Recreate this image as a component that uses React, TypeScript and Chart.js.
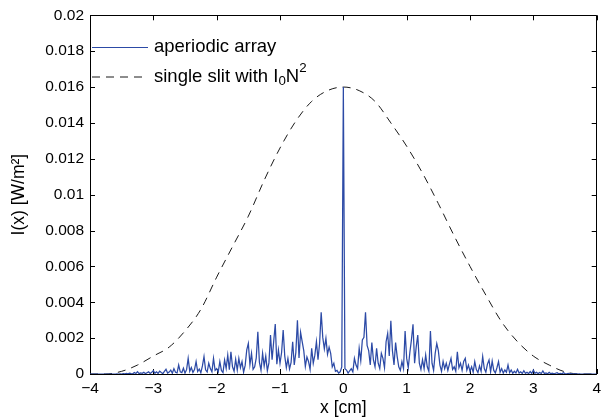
import React, { useEffect, useRef } from 'react';
import { Chart, registerables } from 'chart.js';

Chart.register(...registerables);

// ---- data ----
// x grid for the aperiodic-array trace
const X_START = -4;
const X_STEP = 0.025;
// aperiodic array intensity, in units of 1e-4 W/m^2, one value per grid step
const aperiodicA = [0,0,0,0,0,0,0,0,0,0, 0,0,0,0,0,0,0,0.1,0,0.1, 0,0.2,0.1,0.3,0.1,0.5,0.2,0.1,0.8,0.3, 1.3,0.2,0.6,0.4,1.0,0.2,0.7,1.2,0.3,0.9]; // -4 .. -3.025
const aperiodicB = [1.9,0.4,1.2,0.3,1.6,0.8,0.2,1.4,2.6,0.5, 1.1,2.2,0.4,3.0,1.0,0.6,5.0,1.2,0.8,3.2, 0.5,2.4,8.7,1.5,3.6,0.9,2.5,6.9,1.4,2.8, 0.7,4.5,9.7,2.3,1.1,6.0,3.0,1.2,8.7,2.0]; // -3 .. -2.025
const aperiodicC = [3.0,1.2,6.9,2.0,0.8,7.8,3.1,10.6,2.4,12.4, 4.0,1.5,8.2,2.2,8.7,3.5,6.9,1.0,4.8,13.4, 17.0,5.2,11.5,2.6,4.0,9.0,23.6,6.5,2.1,11.5, 4.4,10.0,1.8,6.2,21.7,8.0,18.0,27.9,5.5,13.4]; // -2 .. -1.025
const aperiodicD = [6.0,12.0,24.5,10.0,3.5,8.7,2.8,6.5,18.0,5.0, 12.0,30.0,9.0,23.2,18.0,13.0,4.2,9.5,7.0,2.5, 14.3,6.0,10.5,18.0,8.0,17.0,34.4,20.4,14.0,19.9, 11.0,15.0,11.5,4.0,6.0,1.5,2.0,0.5,1.2,4.0]; // -1 .. -0.025
const aperiodicCenter = [160]; // x = 0
const aperiodicE = [3.0,2.2,0.5,1.8,3.0,1.2,8.7,5.0,3.0,14.3, 7.5,19.0,20.4,34.4,16.0,13.0,5.0,17.5,7.8,4.0, 14.3,6.0,3.0,11.5,8.7,3.5,18.0,22.7,10.0,29.7, 13.0,5.0,17.5,9.7,4.0,2.0,6.9,3.0,24.0,8.7]; // 0.025 .. 1
const aperiodicF = [3.5,12.0,19.0,27.7,6.0,15.0,21.7,6.0,2.5,8.0, 3.0,10.6,4.0,1.5,24.0,6.0,2.0,11.5,17.0,13.0, 5.0,1.5,7.0,3.0,6.0,2.0,5.5,8.7,2.5,4.0, 1.5,12.4,3.5,6.0,2.0,7.0,8.7,2.2,5.0,1.5]; // 1.025 .. 2
const aperiodicG = [4.0,1.0,6.9,2.5,0.8,4.5,1.5,9.7,3.0,1.0, 5.5,7.8,1.2,7.2,2.0,0.6,3.5,6.9,1.0,3.0, 0.5,2.2,1.0,5.0,0.8,2.2,0.4,1.5,0.6,2.6, 0.5,1.2,0.3,1.8,0.4,1.0,0.2,1.4,0.3,2.2]; // 2.025 .. 3
const aperiodicH = [0.4,1.0,0.2,0.8,0.3,1.7,0.2,0.6,0.1,0.9, 0.2,0.5,0.1,0.4,0.7,0.1,0.3,0.1,0.7,0.2, 0.1,0.3,0.1,0.2,0,0.1,0.1,0,0.1,0, 0,0,0,0,0,0,0,0,0,0]; // 3.025 .. 4
const APERIODIC_UNIT = 1e-4;

// single-slit envelope (I0 N^2), W/m^2
const slitX = [-4,-3.75,-3.5,-3.25,-3,-2.75,-2.5,-2.25,-2,-1.75,-1.5,-1.25,-1,-0.75,-0.5,-0.25,0,0.25,0.5,0.75,1,1.25,1.5,1.75,2,2.25,2.5,2.75,3,3.25,3.5,3.75,4];
const slitY = [0,0,0.00015,0.0005,0.0010,0.0015,0.0024,0.0036,0.0054,0.0071,0.0088,0.0108,0.0126,0.0141,0.0152,0.0158,0.0160,0.0158,0.0152,0.0140,0.0127,0.0112,0.0095,0.0077,0.0060,0.0044,0.0029,0.0018,0.0010,0.0005,0.00012,0,0];

const xTickValues = [-4,-3,-2,-1,0,1,2,3,4];
const xTickLabels = ['\u22124','\u22123','\u22122','\u22121','0','1','2','3','4'];
const yTickValues = [0,0.002,0.004,0.006,0.008,0.01,0.012,0.014,0.016,0.018,0.02];
const yTickLabels = ['0','0.002','0.004','0.006','0.008','0.01','0.012','0.014','0.016','0.018','0.02'];

const seriesLabels = ['aperiodic array', 'single slit with I\u2080N\u00b2'];
const xTitle = 'x [cm]';
const yTitle = 'I(x) [W/m\u00b2]';

const FONT = "'Liberation Sans', Arial, Helvetica, sans-serif";

function drawRich(ctx: CanvasRenderingContext2D, text: string, x: number, y: number, size: number) {
  const sub: Record<string, string> = { '\u2080': '0', '\u2081': '1', '\u2082': '2' };
  const sup: Record<string, string> = { '\u00b2': '2', '\u00b3': '3' };
  let cx = x;
  let buf = '';
  const flush = () => {
    if (!buf) return;
    ctx.font = `${size}px ${FONT}`;
    ctx.fillText(buf, cx, y);
    cx += ctx.measureText(buf).width;
    buf = '';
  };
  for (const ch of text) {
    if (sub[ch] || sup[ch]) {
      flush();
      const s = size * 0.72;
      ctx.font = `${s}px ${FONT}`;
      const dy = sub[ch] ? size * 0.28 : -size * 0.42;
      const t = sub[ch] || sup[ch];
      ctx.fillText(t, cx, y + dy);
      cx += ctx.measureText(t).width;
    } else {
      buf += ch;
    }
  }
  flush();
}

const framePlugin = {
  id: 'matlabFrame',
  beforeDatasetsDraw(chart: any) {
    const { ctx, chartArea } = chart;
    const { left, right, top, bottom } = chartArea;
    const xs = chart.scales.x;
    const ys = chart.scales.y;
    const TL = 5;
    ctx.save();
    ctx.strokeStyle = '#000';
    ctx.lineWidth = 1;
    ctx.beginPath();
    ctx.rect(Math.round(left) + 0.5, Math.round(top) + 0.5, Math.round(right - left) - 1, Math.round(bottom - top));
    for (const v of xTickValues) {
      const px = Math.round(xs.getPixelForValue(v)) + 0.5;
      ctx.moveTo(px, bottom); ctx.lineTo(px, bottom - TL);
      ctx.moveTo(px, top); ctx.lineTo(px, top + TL);
    }
    for (const v of yTickValues) {
      const py = Math.round(ys.getPixelForValue(v)) + 0.5;
      ctx.moveTo(left, py); ctx.lineTo(left + TL, py);
      ctx.moveTo(right, py); ctx.lineTo(right - TL, py);
    }
    ctx.stroke();
    ctx.restore();
  },
};

const legendPlugin = {
  id: 'matlabLegend',
  afterDatasetsDraw(chart: any) {
    const { ctx } = chart;
    const rows = [47, 76.5];
    chart.data.datasets.forEach((ds: any, i: number) => {
      const y = rows[i];
      ctx.save();
      ctx.strokeStyle = ds.borderColor;
      ctx.lineWidth = 1;
      ctx.setLineDash(ds.borderDash || []);
      ctx.beginPath();
      ctx.moveTo(92, y + 0.5);
      ctx.lineTo(148, y + 0.5);
      ctx.stroke();
      ctx.setLineDash([]);
      ctx.fillStyle = '#000';
      ctx.textBaseline = 'middle';
      ctx.textAlign = 'left';
      drawRich(ctx, ds.label, 154, y, 18.5);
      ctx.restore();
    });
  },
};

export default function App() {
  const ref = useRef<HTMLCanvasElement | null>(null);
  useEffect(() => {
    document.body.style.margin = '0';
    const canvas = ref.current;
    if (!canvas) return;
    const aperiodic = [
      ...aperiodicA, ...aperiodicB, ...aperiodicC, ...aperiodicD,
      ...aperiodicCenter,
      ...aperiodicE, ...aperiodicF, ...aperiodicG, ...aperiodicH,
    ];
    const aperiodicData = aperiodic.map((v, i) => ({ x: X_START + i * X_STEP, y: v * APERIODIC_UNIT }));
    const slitData = slitX.map((x, i) => ({ x, y: slitY[i] }));
    const chart = new Chart(canvas, {
      type: 'line',
      data: {
        datasets: [
          {
            label: seriesLabels[0],
            data: aperiodicData,
            borderColor: '#2c4aa6',
            borderWidth: 1.25,
            pointRadius: 0,
            tension: 0,
            fill: false,
          },
          {
            label: seriesLabels[1],
            data: slitData,
            borderColor: '#1a1a1a',
            borderWidth: 1,
            borderDash: [8, 6],
            pointRadius: 0,
            cubicInterpolationMode: 'monotone',
            fill: false,
          },
        ],
      },
      options: {
        responsive: false,
        animation: false,
        events: [],
        layout: { padding: { top: 15, right: 9, bottom: 0, left: 0 } },
        plugins: {
          legend: { display: false },
          tooltip: { enabled: false },
        },
        scales: {
          x: {
            type: 'linear',
            min: -4,
            max: 4,
            afterBuildTicks: (s: any) => { s.ticks = xTickValues.map((value) => ({ value })); },
            afterFit: (s: any) => { s.height = 46; },
            ticks: {
              color: '#000',
              font: { family: FONT, size: 15.5 },
              padding: 5,
              maxRotation: 0,
              autoSkip: false,
              callback: (_v: any, i: number) => xTickLabels[i],
            },
            grid: { display: true, drawOnChartArea: false, drawTicks: false },
            border: { display: false },
            title: {
              display: true,
              text: xTitle,
              color: '#000',
              font: { family: FONT, size: 17.5 },
              padding: { top: 0, bottom: 1 },
            },
          },
          y: {
            type: 'linear',
            min: 0,
            max: 0.02,
            afterBuildTicks: (s: any) => { s.ticks = yTickValues.map((value) => ({ value })); },
            afterFit: (s: any) => { s.width = 90; },
            ticks: {
              color: '#000',
              font: { family: FONT, size: 15.5 },
              padding: 6,
              autoSkip: false,
              callback: (_v: any, i: number) => yTickLabels[i],
            },
            grid: { display: true, drawOnChartArea: false, drawTicks: false },
            border: { display: false },
            title: {
              display: true,
              text: yTitle,
              color: '#000',
              font: { family: FONT, size: 17.5 },
              padding: { top: 9, bottom: 0 },
            },
          },
        },
      } as any,
      plugins: [framePlugin, legendPlugin],
    });
    return () => chart.destroy();
  }, []);
  return <canvas ref={ref} width={606} height={420} style={{ display: 'block', width: 606, height: 420 }} />;
}
